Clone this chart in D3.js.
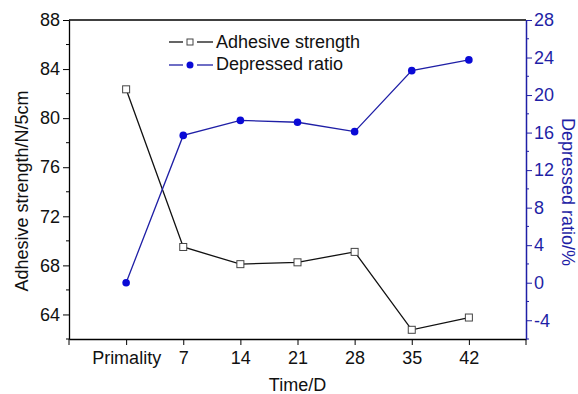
<!DOCTYPE html>
<html lang="en">
<head>
<meta charset="utf-8">
<script src="https://d3js.org/d3.v7.min.js"></script>
<style>
  body { margin: 0; background: #fff; }
  text { font-family: "Liberation Sans", Arial, sans-serif; }
</style>
</head>
<body>
<script>
// data
var categories = ["Primality", "7", "14", "21", "28", "35", "42"];
var adhesive = [82.35, 69.5, 68.1, 68.25, 69.1, 62.75, 63.75];
var depressed = [0, 15.7, 17.3, 17.1, 16.1, 22.6, 23.75];
var leftTicks = [64, 68, 72, 76, 80, 84, 88];
var rightTicks = [-4, 0, 4, 8, 12, 16, 20, 24, 28];

var W = 578, H = 394;
var pL = 69, pR = 526, pT = 20, pB = 339;
var blue = "#1f1fa6", dot = "#0a0ad6";
var fs = "18px";

var svg = d3.select("body").append("svg")
  .attr("width", W).attr("height", H);

var x = d3.scaleLinear().domain([0, 8]).range([pL, pR]);
var yL = d3.scaleLinear().domain([62, 88]).range([pB, pT]);
var yR = d3.scaleLinear().domain([-6, 28]).range([pB, pT]);

// top frame line
svg.append("line")
  .attr("x1", pL).attr("x2", pR).attr("y1", pT).attr("y2", pT)
  .attr("stroke", "#000").attr("stroke-width", 1.3);

// bottom axis
var xAxis = d3.axisBottom(x)
  .tickValues([1, 2, 3, 4, 5, 6, 7])
  .tickFormat(function (d) { return categories[d - 1]; })
  .tickSize(6).tickSizeOuter(0).tickPadding(6);
var gx = svg.append("g").attr("transform", "translate(0," + pB + ")").call(xAxis);
gx.select(".domain").attr("stroke-width", 1.3);
gx.selectAll("text").style("font-size", fs).attr("fill", "#111");
// end ticks
gx.selectAll(".endtick").data([0, 8]).enter().append("line")
  .attr("x1", function (d) { return x(d); }).attr("x2", function (d) { return x(d); })
  .attr("y1", 0).attr("y2", 6).attr("stroke", "#000");

// left axis
var gl = svg.append("g").attr("transform", "translate(" + pL + ",0)")
  .call(d3.axisLeft(yL).tickValues(leftTicks).tickFormat(function (d) { return String(d); })
    .tickSize(6).tickSizeOuter(0).tickPadding(3));
gl.select(".domain").attr("stroke-width", 1.3);
gl.selectAll("text").style("font-size", fs).attr("fill", "#111");
gl.selectAll(".minor").data(d3.range(62, 88, 4)).enter()
  .append("line")
  .attr("x1", -3).attr("x2", 0)
  .attr("y1", function (d) { return yL(d); }).attr("y2", function (d) { return yL(d); })
  .attr("stroke", "#000");

// right axis
var gr = svg.append("g").attr("transform", "translate(" + pR + ",0)")
  .call(d3.axisRight(yR).tickValues(rightTicks).tickFormat(function (d) { return String(d); })
    .tickSize(6).tickSizeOuter(0).tickPadding(2));
gr.select(".domain").attr("stroke", blue).attr("stroke-width", 1.5);
gr.selectAll(".tick line").attr("stroke", blue);
gr.selectAll("text").style("font-size", fs).attr("fill", blue);
gr.selectAll(".minor").data(d3.range(-6, 28, 4)).enter()
  .append("line")
  .attr("x1", 0).attr("x2", 3)
  .attr("y1", function (d) { return yR(d); }).attr("y2", function (d) { return yR(d); })
  .attr("stroke", blue);

// axis titles
svg.append("text").text("Time/D")
  .attr("x", (pL + pR) / 2).attr("y", 391)
  .attr("text-anchor", "middle").style("font-size", fs).attr("fill", "#111");
svg.append("text").text("Adhesive strength/N/5cm")
  .attr("transform", "translate(28,191) rotate(-90)")
  .attr("text-anchor", "middle").style("font-size", fs).attr("fill", "#111");
svg.append("text").text("Depressed ratio/%")
  .attr("transform", "translate(562,192) rotate(90)")
  .attr("text-anchor", "middle").style("font-size", fs).attr("fill", blue);

// lines
var idx = d3.range(categories.length);
var lineL = d3.line().x(function (i) { return x(i + 1); }).y(function (i) { return yL(adhesive[i]); });
var lineR = d3.line().x(function (i) { return x(i + 1); }).y(function (i) { return yR(depressed[i]); });

svg.append("path").datum(idx).attr("d", lineL)
  .attr("fill", "none").attr("stroke", "#111").attr("stroke-width", 1.3);
svg.append("path").datum(idx).attr("d", lineR)
  .attr("fill", "none").attr("stroke", blue).attr("stroke-width", 1.3);

svg.selectAll(".sq").data(idx).enter().append("rect")
  .attr("x", function (i) { return x(i + 1) - 3.5; })
  .attr("y", function (i) { return yL(adhesive[i]) - 3.5; })
  .attr("width", 7).attr("height", 7)
  .attr("fill", "#fff").attr("stroke", "#444").attr("stroke-width", 1);

svg.selectAll(".dot").data(idx).enter().append("circle")
  .attr("cx", function (i) { return x(i + 1); })
  .attr("cy", function (i) { return yR(depressed[i]); })
  .attr("r", 3.8).attr("fill", dot);

// legend
var leg = svg.append("g");
[[169, 183], [197, 213]].forEach(function (s) {
  leg.append("line").attr("x1", s[0]).attr("x2", s[1]).attr("y1", 42).attr("y2", 42)
    .attr("stroke", "#111").attr("stroke-width", 1.3);
  leg.append("line").attr("x1", s[0]).attr("x2", s[1]).attr("y1", 65).attr("y2", 65)
    .attr("stroke", blue).attr("stroke-width", 1.3);
});
leg.append("rect").attr("x", 187).attr("y", 39).attr("width", 6).attr("height", 6)
  .attr("fill", "#fff").attr("stroke", "#444");
leg.append("text").text("Adhesive strength").attr("x", 216).attr("y", 48)
  .style("font-size", fs).attr("fill", "#111");
leg.append("circle").attr("cx", 190).attr("cy", 65).attr("r", 3.5).attr("fill", dot);
leg.append("text").text("Depressed ratio").attr("x", 216).attr("y", 70)
  .style("font-size", fs).attr("fill", "#111");
</script>
</body>
</html>
